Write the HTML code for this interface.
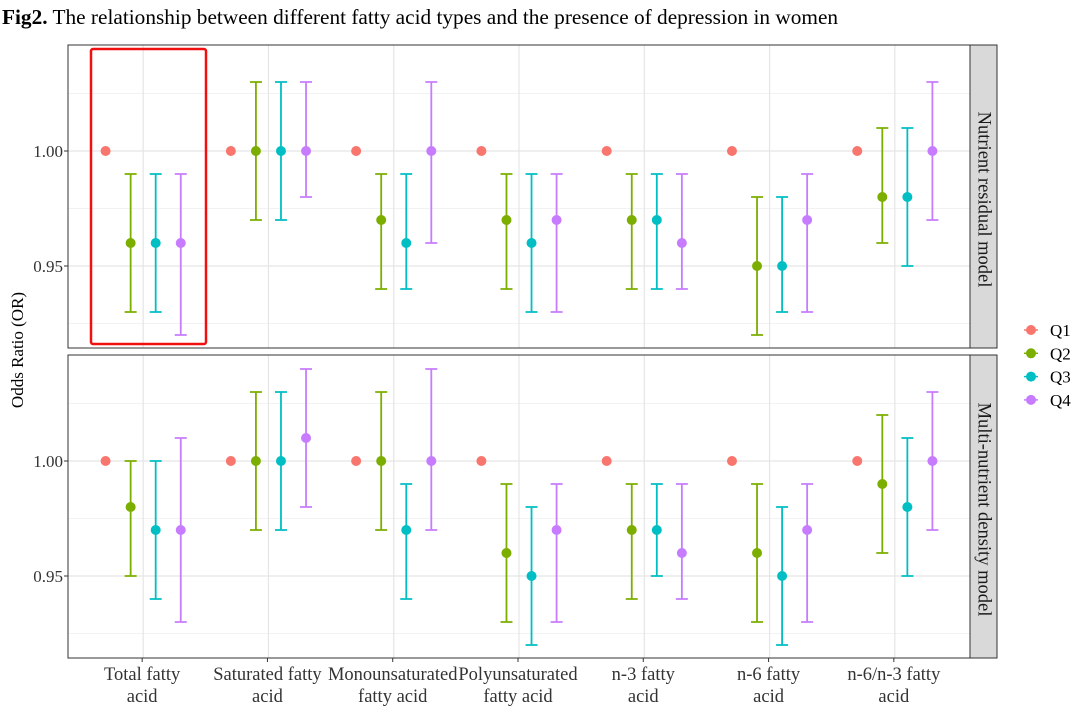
<!DOCTYPE html>
<html><head><meta charset="utf-8"><style>
body{margin:0;background:#fff;}
svg{font-family:"Liberation Serif",serif;}
</style></head><body>
<svg id="chart" width="1080" height="720">
<text x="2" y="24" font-size="21.3" fill="#000"><tspan font-weight="bold">Fig2.</tspan> The relationship between different fatty acid types and the presence of depression in women</text>
<g id="plot"></g>
</svg>
<script>
const categories=["Total fatty|acid","Saturated fatty|acid","Monounsaturated|fatty acid","Polyunsaturated|fatty acid","n-3 fatty|acid","n-6 fatty|acid","n-6/n-3 fatty|acid"];
const groups=["Q1","Q2","Q3","Q4"];
const panels=["Nutrient residual model","Multi-nutrient density model"];
const yTicks=[0.95,1.00];
const yTickLabels=["0.95","1.00"];
const topOR=[[1,0.96,0.96,0.96],[1,1,1,1],[1,0.97,0.96,1],[1,0.97,0.96,0.97],[1,0.97,0.97,0.96],[1,0.95,0.95,0.97],[1,0.98,0.98,1]];
const topLo=[[1,0.93,0.93,0.92],[1,0.97,0.97,0.98],[1,0.94,0.94,0.96],[1,0.94,0.93,0.93],[1,0.94,0.94,0.94],[1,0.92,0.93,0.93],[1,0.96,0.95,0.97]];
const topHi=[[1,0.99,0.99,0.99],[1,1.03,1.03,1.03],[1,0.99,0.99,1.03],[1,0.99,0.99,0.99],[1,0.99,0.99,0.99],[1,0.98,0.98,0.99],[1,1.01,1.01,1.03]];
const botOR=[[1,0.98,0.97,0.97],[1,1,1,1.01],[1,1,0.97,1],[1,0.96,0.95,0.97],[1,0.97,0.97,0.96],[1,0.96,0.95,0.97],[1,0.99,0.98,1]];
const botLo=[[1,0.95,0.94,0.93],[1,0.97,0.97,0.98],[1,0.97,0.94,0.97],[1,0.93,0.92,0.93],[1,0.94,0.95,0.94],[1,0.93,0.92,0.93],[1,0.96,0.95,0.97]];
const botHi=[[1,1.00,1.00,1.01],[1,1.03,1.03,1.04],[1,1.03,0.99,1.04],[1,0.99,0.98,0.99],[1,0.99,0.99,0.99],[1,0.99,0.98,0.99],[1,1.02,1.01,1.03]];
const colors=["#F8766D","#7CAE00","#00BFC4","#C77CFF"];
const NS="http://www.w3.org/2000/svg";
const g=document.getElementById("plot");
function el(t,a,p){const e=document.createElementNS(NS,t);for(const k in a)e.setAttribute(k,a[k]);(p||g).appendChild(e);return e;}
const X0=68,X1=970,unit=(X1-X0)/(categories.length-1+1.2);
const xScale=(i,j)=>X0+(0.6+i+(j-1.5)*0.2)*unit;
const panelTops=[45,355],PH=303,ppu=2300;
const yScale=(p,v)=>panelTops[p]+106-(v-1)*ppu;
const data=[[topOR,topLo,topHi],[botOR,botLo,botHi]];
panels.forEach((name,p)=>{
  const top=panelTops[p];
  const rect=el("rect",{x:X0,y:top,width:X1-X0,height:PH,fill:"#fff"});
  
  
  [0.925,0.975,1.025].forEach(v=>{const y=yScale(p,v);const l=el("line",{x1:X0,x2:X1,y1:y,y2:y,stroke:"#f2f2f2","stroke-width":1});
    });
  yTicks.forEach((v,k)=>{const y=yScale(p,v);const l=el("line",{x1:X0,x2:X1,y1:y,y2:y,stroke:"#e5e5e5","stroke-width":1.2});
    
    const tk=el("line",{x1:X0-4,x2:X0,y1:y,y2:y,stroke:"#333"});
    const t=el("text",{x:X0-5,y:y+6,"text-anchor":"end","font-size":17,fill:"#333"});t.textContent=yTickLabels[k];
    });
  categories.forEach((c,i)=>{const x=xScale(i,1.5);const l=el("line",{x1:x,x2:x,y1:top,y2:top+PH,stroke:"#e5e5e5","stroke-width":1.2});
    });
  const [OR,LO,HI]=data[p];
  categories.forEach((c,i)=>{groups.forEach((q,j)=>{
    const x=xScale(i,j),col=colors[j];
    if(HI[i][j]!==LO[i][j]){
      const eb=el("path",{d:`M${x-6},${yScale(p,HI[i][j])}H${x+6}M${x},${yScale(p,HI[i][j])}V${yScale(p,LO[i][j])}M${x-6},${yScale(p,LO[i][j])}H${x+6}`,stroke:col,"stroke-width":1.8,fill:"none"});
      }
    const pt=el("circle",{cx:x,cy:yScale(p,OR[i][j]),r:5,fill:col});
    
  });});
  const bd=el("rect",{x:X0,y:top,width:X1-X0,height:PH,fill:"none",stroke:"#333","stroke-width":1});
  
  const st=el("rect",{x:X1,y:top,width:27,height:PH,fill:"#d9d9d9",stroke:"#333","stroke-width":1});
  
  const cy=top+PH/2+3;
  const stt=el("text",{x:X1+13.5,y:cy,transform:`rotate(90 ${X1+13.5} ${cy})`,"text-anchor":"middle","dominant-baseline":"central","font-size":18.5,fill:"#1a1a1a"});
  stt.textContent=name;
});
categories.forEach((c,i)=>{const x=xScale(i,1.5)-1;
  const tk=el("line",{x1:x,x2:x,y1:658,y2:662,stroke:"#333"});
  c.split("|").forEach((s,k)=>{const t=el("text",{x:x,y:680+k*22,"text-anchor":"middle","font-size":18.5,fill:"#333"});t.textContent=s;
    });});
const yt=el("text",{x:23,y:350,transform:"rotate(-90 23 350)","text-anchor":"middle","font-size":17,fill:"#000"});
yt.textContent="Odds Ratio (OR)";
const box=el("rect",{x:91,y:49,width:115,height:295,fill:"none",stroke:"#f01010","stroke-width":2.5,rx:2});

groups.forEach((q,j)=>{const y=330+j*23.3;
  const c=el("circle",{cx:1031,cy:y,r:5,fill:colors[j]});
  const l=el("line",{x1:1024,x2:1038,y1:y,y2:y,stroke:colors[j],"stroke-width":1.5});
  const t=el("text",{x:1050,y:y+6,"font-size":17,fill:"#000"});t.textContent=q;});
</script>
</body></html>
